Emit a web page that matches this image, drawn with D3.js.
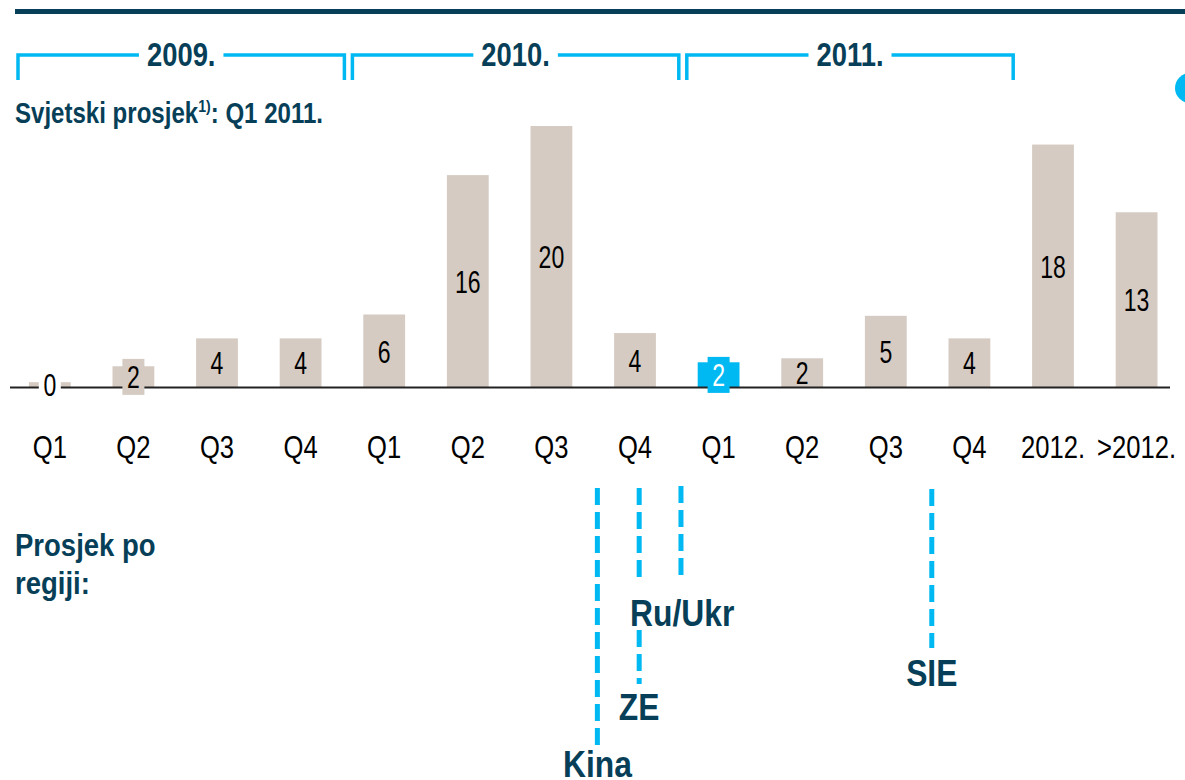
<!DOCTYPE html>
<html>
<head>
<meta charset="utf-8">
<script src="https://cdn.jsdelivr.net/npm/d3@7"></script>
<style>
  body { margin: 0; background: #fff; }
  svg { display: block; font-family: "Liberation Sans", Arial, sans-serif; }
</style>
</head>
<body>
<div id="chart"></div>
<script>
// data
var categories = ["Q1", "Q2", "Q3", "Q4", "Q1", "Q2", "Q3", "Q4", "Q1", "Q2", "Q3", "Q4", "2012.", ">2012."];
var values = [0.4, 1.6, 3.7, 3.7, 5.5, 16.0, 19.7, 4.1, 1.9, 2.2, 5.4, 3.7, 18.3, 13.2];
var labels = ["0", "2", "4", "4", "6", "16", "20", "4", "2", "2", "5", "4", "18", "13"];
var highlightIndex = 8;
var years = ["2009.", "2010.", "2011."];
var yearStart = [0, 4, 8];      // first quarter index of each year
var regions = ["Kina", "ZE", "Ru/Ukr", "SIE"];
var regionPos = [6.55, 7.05, 7.55, 10.55];   // position in quarter units

var W = 1185, H = 780;
var dark = "#073f58", cyan = "#00b9f2", beige = "#d5cbc2";

var svg = d3.select("#chart").append("svg")
    .attr("width", W)
    .attr("height", H);

// the source uses a condensed face, so squeeze text horizontally
function squeeze(sel, px, py, sx) {
    return sel.attr("x", 0).attr("y", 0)
        .attr("transform", "translate(" + px + "," + py + ") scale(" + sx + ",1)");
}

var x = d3.scaleBand()
    .domain(d3.range(categories.length))
    .range([8, 8 + 83.6 * categories.length])
    .paddingInner(0.5)
    .paddingOuter(0.25);

var step = x.step();
function xc(i) { return x(0) + x.bandwidth() / 2 + i * step; }

var y = d3.scaleLinear().domain([0, 20]).range([387.5, 122]);

// top rule
svg.append("rect").attr("x", 15).attr("y", 9).attr("width", W - 15).attr("height", 5).attr("fill", dark);

// year brackets
years.forEach(function (yr, k) {
    var x0 = xc(yearStart[k]) - step / 2 + 10,
        x1 = xc(yearStart[k] + 3) + step / 2 + 2,
        top = 55, bot = 80, mid = (x0 + x1) / 2, sx = 0.83;
    var t = svg.append("text")
        .attr("text-anchor", "middle")
        .attr("font-weight", "bold").attr("font-size", 33)
        .attr("fill", dark)
        .text(yr);
    squeeze(t, mid, 66, sx);
    var half = t.node().getBBox().width * sx / 2;
    var p = d3.path();
    p.moveTo(x0, bot); p.lineTo(x0, top); p.lineTo(mid - half - 8, top);
    p.moveTo(mid + half + 8, top); p.lineTo(x1, top); p.lineTo(x1, bot);
    svg.insert("path", "text").attr("d", p.toString())
        .attr("fill", "none").attr("stroke", cyan).attr("stroke-width", 3.5);
});

// right-edge dot
svg.append("circle").attr("cx", 1190).attr("cy", 88).attr("r", 15).attr("fill", cyan);

// subtitle
var sub = svg.append("text")
    .attr("font-weight", "bold").attr("font-size", 29).attr("fill", dark);
squeeze(sub, 15, 123, 0.83);
sub.append("tspan").text("Svjetski prosjek");
sub.append("tspan").attr("font-size", 17).attr("dy", -11).text("1)");
sub.append("tspan").attr("dy", 11).text(": Q1 2011.");

// bars
svg.append("g").selectAll("rect").data(values).join("rect")
    .attr("x", function (d, i) { return x(i); })
    .attr("width", x.bandwidth())
    .attr("y", function (d) { return y(d); })
    .attr("height", function (d) { return y(0) - y(d); })
    .attr("fill", function (d, i) { return i === highlightIndex ? cyan : beige; });

// axis line
svg.append("line").attr("x1", 10).attr("x2", 1170).attr("y1", 387.5).attr("y2", 387.5)
    .attr("stroke", "#222").attr("stroke-width", 2);

// value labels; short bars get a backing box so the digit stays readable
var lab = svg.append("g").selectAll("g").data(values).join("g")
    .attr("transform", function (d, i) {
        return "translate(" + (x(i) + x.bandwidth() / 2) + "," + ((y(d) + y(0)) / 2) + ")";
    });
lab.filter(function (d) { return y(0) - y(d) < 28; }).append("rect")
    .attr("x", -11).attr("y", -18).attr("width", 22).attr("height", 36)
    .attr("fill", function (d, i) { return d < 1 ? "#fff" : (values.indexOf(d) === highlightIndex ? cyan : beige); });
lab.append("text")
    .attr("text-anchor", "middle").attr("dy", "0.36em")
    .attr("transform", "scale(0.72,1)")
    .attr("font-size", 32)
    .attr("fill", function (d, i) { return i === highlightIndex ? "#fff" : "#000"; })
    .text(function (d, i) { return labels[i]; });

// category axis
var xAxis = d3.axisBottom(x).tickSize(0).tickPadding(0).tickFormat(function (i) { return categories[i]; });
var ga = svg.append("g").attr("transform", "translate(0,435)").call(xAxis);
ga.select(".domain").remove();
ga.selectAll("text")
    .attr("font-size", 32).attr("fill", "#000").attr("font-family", null)
    .attr("dy", "0.72em").attr("transform", "scale(0.8,1)");

// regional averages
var reg = svg.append("text").attr("font-weight", "bold").attr("font-size", 32).attr("fill", dark);
squeeze(reg, 15, 556, 0.86);
reg.append("tspan").attr("x", 0).attr("y", 0).text("Prosjek po");
reg.append("tspan").attr("x", 0).attr("y", 38).text("regiji:");

var segs = [
    [[488, 745]],
    [[488, 584], [630, 684]],
    [[486, 582]],
    [[489, 648]]
];
var labY = [777, 720, 626, 686];
regions.forEach(function (r, k) {
    var cx = xc(regionPos[k]);
    segs[k].forEach(function (s) {
        svg.append("line").attr("x1", cx).attr("x2", cx).attr("y1", s[0]).attr("y2", s[1])
            .attr("stroke", cyan).attr("stroke-width", 5).attr("stroke-dasharray", "17,7");
    });
    var t = svg.append("text")
        .attr("text-anchor", k === 2 ? "start" : "middle")
        .attr("font-weight", "bold").attr("font-size", 37).attr("fill", dark)
        .text(r);
    squeeze(t, k === 2 ? cx - 51 : cx, labY[k], 0.86);
});
</script>
</body>
</html>
